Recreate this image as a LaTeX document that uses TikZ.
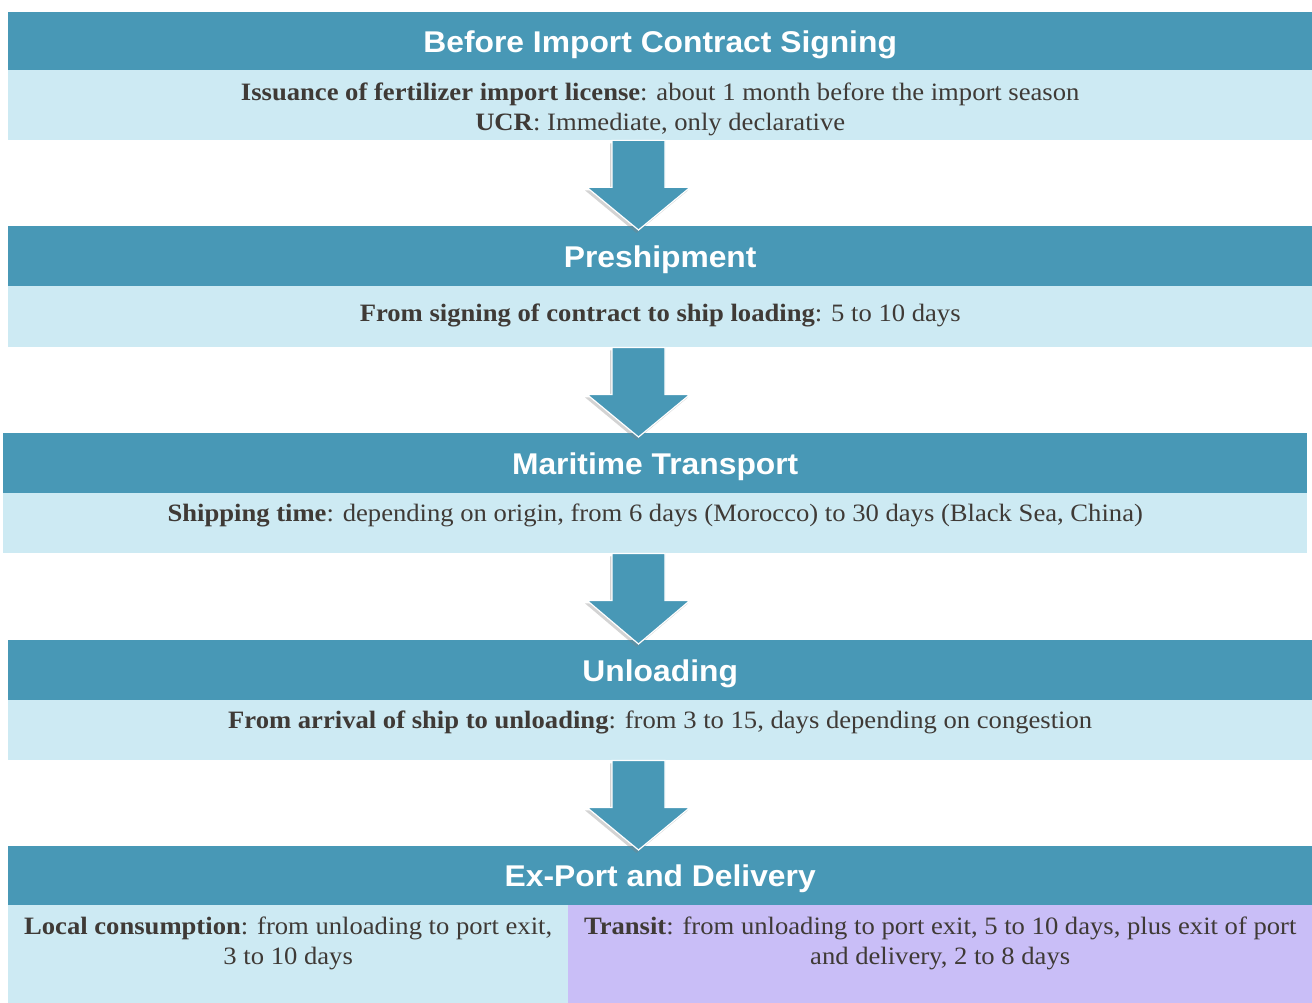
\documentclass[tikz,border=0pt]{standalone}
\usepackage{fontspec}
\setmainfont{Liberation Serif}[FakeStretch=1.065]
\newfontfamily\headfont{Liberation Sans}[FakeStretch=1.06]
\usepackage{xcolor}
\usepackage{tikz}
\usetikzlibrary{calc,shadows}

\definecolor{headblue}{HTML}{4898B6}
\definecolor{bodyblue}{HTML}{CDEAF3}
\definecolor{bodyviolet}{HTML}{C9BEF7}
\definecolor{textgray}{HTML}{3F3A36}

\tikzset{
  headbar/.style={fill=headblue, anchor=north west, inner sep=0pt,
    minimum width=1304pt, minimum height=60pt, text=white, text depth=0pt,
    font=\headfont\bfseries\fontsize{30}{34}\selectfont},
  bodybar/.style={fill=bodyblue, anchor=north west, inner sep=0pt,
    minimum width=1304pt, minimum height=60pt},
  bodytext/.style={anchor=north, inner sep=0pt, align=center, text=textgray,
    font=\fontsize{25}{30}\selectfont},
  downarrow/.style={fill=headblue, draw=white, line width=1.2pt,
    drop shadow={opacity=0.35, shadow xshift=-2pt, shadow yshift=-3pt}}
}

\begin{document}
\begin{tikzpicture}[x=1pt,y=-1pt]
  \useasboundingbox (0,0) rectangle (1312,1003);

  % 各阶段标题栏与说明栏
  \node[headbar, minimum height=58pt] (h1) at (8,12) {Before Import Contract Signing};
  \node[bodybar, minimum height=70pt] (b1) at (8,70) {};
  \node[headbar] (h2) at (8,226) {Preshipment};
  \node[bodybar, minimum height=61pt] (b2) at (8,286) {};
  \node[headbar] (h3) at (3,433) {Maritime Transport};
  \node[bodybar] (b3) at (3,493) {};
  \node[headbar] (h4) at (8,640) {Unloading};
  \node[bodybar] (b4) at (8,700) {};
  \node[headbar, minimum height=59pt] (h5) at (8,846) {Ex-Port and Delivery};
  \node[bodybar, minimum width=560pt, minimum height=98pt] (b5l) at (8,905) {};
  \node[bodybar, fill=bodyviolet, minimum width=744pt, minimum height=98pt] (b5r) at (568,905) {};

  % 说明文字
  \node[bodytext] (t1) at ($(b1.north)+(0,12.5)$)
    {\textbf{Issuance of fertilizer import license}: about 1 month before the import season\\
     \textbf{UCR}: Immediate, only declarative};
  \node[bodytext] (t2) at ($(b2.north)+(0,17.5)$)
    {\textbf{From signing of contract to ship loading}: 5 to 10 days};
  \node[bodytext] (t3) at ($(b3.north)+(0,10.5)$)
    {\textbf{Shipping time}: depending on origin, from 6 days (Morocco) to 30 days (Black Sea, China)};
  \node[bodytext] (t4) at ($(b4.north)+(0,10.5)$)
    {\textbf{From arrival of ship to unloading}: from 3 to 15, days depending on congestion};
  \node[bodytext] (t5l) at ($(b5l.north)+(0,11.5)$)
    {\textbf{Local consumption}: from unloading to port exit,\\ 3 to 10 days};
  \node[bodytext] (t5r) at ($(b5r.north)+(0,11.5)$)
    {\textbf{Transit}: from unloading to port exit, 5 to 10 days, plus exit of port\\ and delivery, 2 to 8 days};

  % 阶段之间的箭头
  \coordinate (axis) at (638.5,0);
  \foreach \s/\t in {b1/h2, b2/h3, b3/h4, b4/h5}
    \path[downarrow]
      ($(\s.south -| axis)+(-26.5,0)$) -- ++(0,47) -- ++(-25,0) --
      ($(\t.north -| axis)+(0,4)$) --
      ($(\s.south -| axis)+(51.5,47)$) -- ++(-25,0) -- ++(0,-47) -- cycle;
\end{tikzpicture}
\end{document}
